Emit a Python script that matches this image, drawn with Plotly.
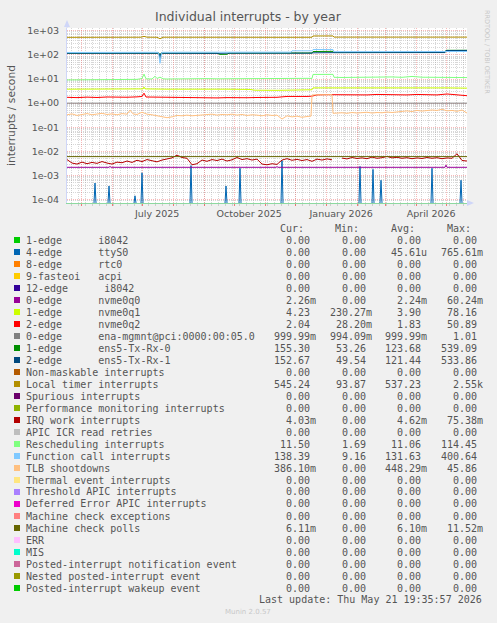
import plotly.graph_objects as go
import pandas as pd

# ---------------------------------------------------------------- data
END = pd.Timestamp("2026-05-21 19:35:57")
START = END - pd.Timedelta(days=400)

LABELS = [
    "1-edge      i8042", "4-edge      ttyS0", "8-edge      rtc0", "9-fasteoi   acpi",
    "12-edge      i8042", "0-edge      nvme0q0", "1-edge      nvme0q1", "2-edge      nvme0q2",
    "0-edge      ena-mgmnt@pci:0000:00:05.0", "1-edge      ens5-Tx-Rx-0", "2-edge      ens5-Tx-Rx-1",
    "Non-maskable interrupts", "Local timer interrupts", "Spurious interrupts",
    "Performance monitoring interrupts", "IRQ work interrupts", "APIC ICR read retries",
    "Rescheduling interrupts", "Function call interrupts", "TLB shootdowns",
    "Thermal event interrupts", "Threshold APIC interrupts", "Deferred Error APIC interrupts",
    "Machine check exceptions", "Machine check polls", "ERR", "MIS",
    "Posted-interrupt notification event", "Nested posted-interrupt event",
    "Posted-interrupt wakeup event",
]
COLORS = [
    "#00CC00", "#0066B3", "#FF8000", "#FFCC00", "#330099", "#990099", "#CCFF00", "#FF0000",
    "#808080", "#008F00", "#00487D", "#B35A00", "#B38F00", "#6B006B", "#8FB300", "#B30000",
    "#BEBEBE", "#80FF80", "#80C9FF", "#FFC080", "#FFE680", "#AA80FF", "#EE00CC", "#FF8080",
    "#666600", "#FFBFFF", "#00FFCC", "#CC6699", "#999900", "#00CC00",
]
Z = "0.00"
CUR = [Z, Z, Z, Z, Z, "2.26m", "4.23", "2.04", "999.99m", "155.30", "152.67", Z, "545.24", Z, Z,
       "4.03m", Z, "11.50", "138.39", "386.10m", Z, Z, Z, Z, "6.11m", Z, Z, Z, Z, Z]
MIN = [Z, Z, Z, Z, Z, Z, "230.27m", "28.20m", "994.09m", "53.26", "49.54", Z, "93.87", Z, Z,
       Z, Z, "1.69", "9.16", Z, Z, Z, Z, Z, Z, Z, Z, Z, Z, Z]
AVG = [Z, "45.61u", Z, Z, Z, "2.24m", "3.90", "1.83", "999.99m", "123.68", "121.44", Z, "537.23", Z, Z,
       "4.62m", Z, "11.06", "131.63", "448.29m", Z, Z, Z, Z, "6.10m", Z, Z, Z, Z, Z]
MAX = [Z, "765.61m", Z, Z, Z, "60.24m", "78.16", "50.89", "1.01", "539.09", "533.86", Z, "2.55k", Z, Z,
       "75.38m", Z, "114.45", "400.64", "45.86", Z, Z, Z, Z, "11.52m", Z, Z, Z, Z, Z]

# series: day offsets from START and values (interrupts / second)
TTY_SPIKE_D = [28, 42, 68, 75, 124, 159, 173, 215, 293, 306, 314, 365, 394]
TTY_SPIKE_V = [4.9e-4, 3.7e-4, 1.45e-4, 1.3e-3, 2.6e-3, 3.7e-4, 2.0e-3, 4.2e-3, 2.4e-3, 1.8e-3,
               6.4e-4, 2.0e-3, 6.4e-4]

NV0_D = [0, 42, 43, 44, 209, 210, 211, 378, 379, 380, 400]
NV0_V = [2.2e-3, 2.2e-3, 2.4e-3, 2.2e-3, 2.2e-3, 2.35e-3, 2.2e-3, 2.2e-3, 2.7e-3, 2.2e-3, 2.2e-3]

NV1_D = [0, 30, 60, 76, 77, 78, 100, 130, 160, 183, 188, 210, 230, 245, 246, 270, 300, 320, 340, 360, 380, 400]
NV1_V = [3.8, 3.9, 3.8, 3.9, 4.7, 3.9, 3.8, 3.9, 3.8, 3.7, 3.45, 3.4, 3.5, 3.6, 4.3, 4.3, 4.3, 4.4, 4.6, 4.5, 4.3, 4.2]

NV2_D = [0, 10, 20, 30, 40, 50, 60, 70, 75, 77, 79, 90, 100, 110, 120, 130, 140, 150, 160, 170, 180, 190,
         200, 210, 220, 230, 236, 240, 245, 250, 260, 270, 280, 290, 300, 310, 320, 330, 340, 350, 360,
         370, 380, 390, 395, 400]
NV2_V = [1.75, 1.70, 1.78, 1.72, 1.80, 1.74, 1.76, 1.82, 1.9, 2.6, 1.8, 1.78, 1.74, 1.72, 1.76, 1.70,
         1.68, 1.65, 1.70, 1.66, 1.68, 1.72, 1.70, 1.75, 1.9, 1.85, 1.95, 1.9, 1.95, 2.2, 2.25, 2.2,
         2.3, 2.25, 2.2, 2.3, 2.25, 2.35, 2.2, 2.3, 2.25, 2.2, 2.4, 2.2, 2.1, 2.04]

ENA_D = [0, 400]
ENA_V = [0.99999, 0.99999]

R0_D = [0, 60, 92, 93, 94, 150, 153, 160, 162, 245, 246, 266, 267, 330, 378, 379, 400]
R0_V = [118, 120, 118, 85, 118, 118, 105, 106, 118, 120, 138, 140, 125, 126, 126, 155, 155]

R1_D = [0, 60, 92, 93, 94, 150, 160, 245, 246, 266, 267, 330, 378, 379, 400]
R1_V = [117, 119, 117, 70, 117, 116, 118, 118, 122, 124, 124, 125, 125, 152, 153]

LT_D = [0, 20, 40, 60, 74, 77, 80, 90, 93, 96, 110, 130, 150, 170, 190, 210, 230, 245, 246, 266, 267,
        290, 310, 330, 350, 370, 390, 400]
LT_V = [535, 538, 540, 536, 540, 585, 542, 538, 470, 540, 545, 538, 535, 540, 538, 536, 540, 538, 610,
        612, 545, 543, 540, 542, 538, 545, 542, 545]

IRQ_D = list(range(0, 401, 5))
IRQ_V_MILLI = [
    4.6, 3.3, 3.0, 3.6, 3.1, 3.5, 3.2, 3.8, 3.3, 3.0,
    3.6, 3.4, 4.0, 3.5, 4.3, 3.8, 4.6, 4.1, 3.7, 4.4,
    5.0, 5.4, 7.0, 5.6, 5.2, 2.8, 3.1, 4.4, 3.9, 4.6,
    4.2, 4.8, 4.0, 4.5, 5.6, 4.6, 5.0, 4.4, 4.8, 3.0,
    2.8, 3.1, 2.9, 4.4, 5.0, 4.3, 4.7, 4.2, 4.6, 3.9,
    4.8, 4.4, 4.9, 4.5, None, 5.3, 4.9, 5.6, 5.1, 5.4,
    5.0, 5.8, 5.2, 5.5, 6.2, 5.4, 5.7, 5.2, 5.5, 5.0,
    5.4, 5.1, 5.6, 5.2, 5.5, 5.0, 5.4, 5.2, 8.0, 4.2,
    4.0,
]

RS_D = [0, 10, 20, 30, 40, 50, 60, 70, 75, 77, 79, 85, 88, 90, 93, 96, 100, 110, 120, 130, 140, 150,
        160, 170, 180, 190, 200, 210, 220, 230, 240, 245, 246, 266, 267, 275, 285, 290, 295, 305, 315,
        325, 335, 345, 355, 365, 375, 385, 395, 400]
RS_V = [9.2, 9.3, 9.1, 9.4, 9.5, 9.6, 9.8, 9.7, 10.5, 16.0, 10.2, 10.0, 13.0, 10.5, 12.0, 10.2, 10.0,
        10.2, 10.3, 10.1, 10.4, 10.2, 10.3, 10.6, 10.8, 10.6, 10.9, 11.0, 10.8, 11.0, 10.7, 10.6, 15.5,
        15.6, 11.8, 11.6, 11.8, 11.5, 11.7, 11.6, 12.4, 12.2, 11.8, 12.8, 11.9, 11.7, 11.6, 11.9, 11.6, 11.5]

FC_D = [0, 30, 60, 91, 92, 93, 94, 95, 120, 150, 180, 210, 224, 225, 245, 246, 266, 267, 300, 330, 360,
        378, 379, 400]
FC_V = [126, 128, 127, 128, 95, 45, 90, 128, 129, 127, 128, 129, 130, 148, 148, 168, 166, 136, 137, 135,
        138, 137, 140, 138]

TLB_D = [0, 5, 10, 15, 20, 25, 30, 35, 40, 45, 50, 55, 60, 63, 66,
         70, 75, 80, 85, 90, 95, 100, 105, 110, 115, 120, 125, 130, 135, 140, 145, 150, 155, 160, 165,
         170, 175, 180, 185, 190, 195, 200, 205, 210, 215, 220, 225, 230, 235, 240,
         244, 245, 265, 266,
         270, 275, 280, 285, 290, 295, 300, 305, 310, 315, 320, 325, 330, 335, 340, 345, 350, 355,
         360, 365, 370, 375, 380, 385, 390, 395, 400]
TLB_V = [0.33, 0.36, 0.31, 0.34, 0.37, 0.33, 0.35, 0.38, 0.34, 0.36, 0.33, 0.37, 0.35, 0.52, 0.36,
         0.34, 0.42, 0.35, 0.33, 0.30, 0.26, 0.25, 0.27, 0.31, 0.30, 0.32, 0.30, 0.31, 0.34, 0.33, 0.35,
         0.32, 0.34, 0.33, 0.35, 0.32, 0.34, 0.31, 0.33, 0.32, 0.30, 0.33, 0.31, 0.32, 0.22, 0.30, 0.27,
         0.29, 0.26, 0.28,
         0.29, 2.2, 2.25, 0.38,
         0.39, 0.40, 0.38, 0.41, 0.39, 0.40, 0.42, 0.39, 0.41, 0.40, 0.43, 0.41, 0.44, 0.46, 0.48, 0.45,
         0.50, 0.47, 0.49, 0.52, 0.50, 0.56, 0.48, 0.50, 0.46, 0.52, 0.39]

MCP_D = [0, 400]
MCP_V = [6.1e-3, 6.1e-3]

MONTH_TICKS = ["2025-05-01", "2025-06-01", "2025-07-01", "2025-08-01", "2025-09-01", "2025-10-01",
               "2025-11-01", "2025-12-01", "2026-01-01", "2026-02-01", "2026-03-01", "2026-04-01",
               "2026-05-01"]
MONTH_TEXT = ["", "", "July 2025", "", "", "October 2025", "", "", "January 2026", "", "",
              "April 2026", ""]
Y_TICKS = [1e-4, 1e-3, 1e-2, 1e-1, 1, 10, 100, 1000]
Y_TEXT = ["1e-04", "1e-03", "1e-02", "1e-01", "1e+00", "1e+01", "1e+02", "1e+03"]
Y_RANGE = [-4.137, 3.115]

# ---------------------------------------------------------------- geometry
W, H = 497, 623
PL, PR, PT, PB = 67, 467, 28, 203


def xp(px):
    return (px - PL) / (PR - PL)


def yp(py):
    return (PB - py) / (PB - PT)


def dates(days):
    return [START + pd.Timedelta(days=d) for d in days]


fig = go.Figure()

# zero on a log axis is drawn at the bottom edge (as rrdtool does)
ZERO_AT = 10 ** Y_RANGE[0]
tx, ty = [], []
for d, v in zip(TTY_SPIKE_D, TTY_SPIKE_V):
    tx += dates([d - 1, d, d + 1]) + [None]
    ty += [ZERO_AT, v, ZERO_AT, None]

series = {
    1: (tx, ty),
    5: (dates(NV0_D), NV0_V),
    6: (dates(NV1_D), NV1_V),
    7: (dates(NV2_D), NV2_V),
    8: (dates(ENA_D), ENA_V),
    9: (dates(R0_D), R0_V),
    10: (dates(R1_D), R1_V),
    12: (dates(LT_D), LT_V),
    15: (dates(IRQ_D), [None if v is None else v / 1000 for v in IRQ_V_MILLI]),
    17: (dates(RS_D), RS_V),
    18: (dates(FC_D), FC_V),
    19: (dates(TLB_D), TLB_V),
    24: (dates(MCP_D), MCP_V),
}
for idx in sorted(series):
    x, y = series[idx]
    fig.add_trace(go.Scatter(x=x, y=y, mode="lines", line=dict(color=COLORS[idx], width=1),
                             connectgaps=False, hoverinfo="skip", showlegend=False))

MGRID = "rgba(240,100,100,0.45)"
GRID = "rgba(150,150,150,0.38)"
TXT = "#555555"

fig.update_layout(
    width=W, height=H, autosize=False,
    margin=dict(l=PL, r=W - PR, t=PT, b=H - PB, pad=0),
    paper_bgcolor="#F0F0F0", plot_bgcolor="#FFFFFF", showlegend=False,
    font=dict(family="DejaVu Sans", color=TXT, size=9.5),
)
fig.update_xaxes(
    type="date", range=[START, END], tickmode="array", tickvals=MONTH_TICKS, ticktext=MONTH_TEXT,
    ticklabelshift=15, tickangle=0, tickfont=dict(size=9.5, color=TXT, family="DejaVu Sans"),
    showgrid=True, gridcolor=MGRID, griddash="1px,1px", gridwidth=1,
    ticks="outside", ticklen=2, tickcolor="rgba(240,90,90,0.8)",
    minor=dict(tickmode="linear", tick0="2025-04-21", dtick=7 * 86400000, showgrid=True,
               gridcolor=GRID, griddash="1px,1px", ticks="outside", ticklen=2, tickcolor=GRID),
    showline=True, linecolor="#8CD9A0", linewidth=1, zeroline=False, fixedrange=True,
)
fig.update_yaxes(
    type="log", range=Y_RANGE, tickmode="array", tickvals=Y_TICKS, ticktext=Y_TEXT,
    tickfont=dict(size=9.5, color=TXT, family="DejaVu Sans"),
    showgrid=True, gridcolor=MGRID, griddash="1px,1px", gridwidth=1,
    minor=dict(tickmode="array", tickvals=[m * 10.0 ** k for k in range(-5, 4) for m in range(2, 10)],
               showgrid=True, gridcolor=GRID, griddash="1px,1px"),
    ticks="outside", ticklen=5, tickcolor="rgba(0,0,0,0)",
    showline=True, linecolor="#CFD6F8", linewidth=1, zeroline=False, fixedrange=True,
)

# axis arrows
fig.add_shape(type="path", xref="paper", yref="paper", line=dict(width=0), fillcolor="#CFD6F8",
              path=f"M {xp(64)},{yp(27)} L {xp(70)},{yp(27)} L {xp(67)},{yp(20)} Z")
fig.add_shape(type="line", xref="paper", yref="paper", x0=xp(67), x1=xp(67), y0=yp(28), y1=yp(22),
              line=dict(color="#CFD6F8", width=1))
fig.add_shape(type="path", xref="paper", yref="paper", line=dict(width=0), fillcolor="#CFD6F8",
              path=f"M {xp(467)},{yp(200)} L {xp(467)},{yp(206)} L {xp(474)},{yp(203)} Z")


def txt(s, px, py, xanchor="left", size=10, color=TXT, family="DejaVu Sans Mono", angle=0):
    fig.add_annotation(text=s, x=xp(px), y=yp(py), xref="paper", yref="paper", xanchor=xanchor,
                       yanchor="middle", showarrow=False, borderpad=0, borderwidth=0,
                       textangle=angle, font=dict(size=size, color=color, family=family))


txt("Individual interrupts - by year", 248, 17, "center", 12.5, TXT, "DejaVu Sans")
txt("interrupts / second", 11, 115, "center", 10.7, TXT, "DejaVu Sans", -90)
txt("RRDTOOL / TOBI OETIKER", 487, 52, "center", 6.5, "#C8C8C8", "DejaVu Sans", 90)
txt("Munin 2.0.57", 248, 612, "center", 7, "#C8C8C8", "DejaVu Sans")

NB = "\u00a0"
for h, px in zip(["Cur:", "Min:", "Avg:", "Max:"], [280, 335, 391, 447]):
    txt(h, px, 228)

COL_EDGES = [316, 372, 427, 483]
for i, lab in enumerate(LABELS):
    y = 240 + 12 * i
    fig.add_shape(type="rect", xref="paper", yref="paper", x0=xp(14), x1=xp(20), y0=yp(y + 3),
                  y1=yp(y - 3), line=dict(width=0), fillcolor=COLORS[i])
    txt(lab.replace(" ", NB), 26, y)
    for vals, edge in zip([CUR, MIN, AVG, MAX], COL_EDGES):
        v = vals[i]
        s = v if v[-1].isalpha() else v + NB
        txt(s, edge, y, "right")

txt("Last update: Thu May 21 19:35:57 2026", 482, 599, "right")

fig.write_html("out.html", config={"displayModeBar": False, "staticPlot": True},
               post_script="document.body.style.margin='0px';")
